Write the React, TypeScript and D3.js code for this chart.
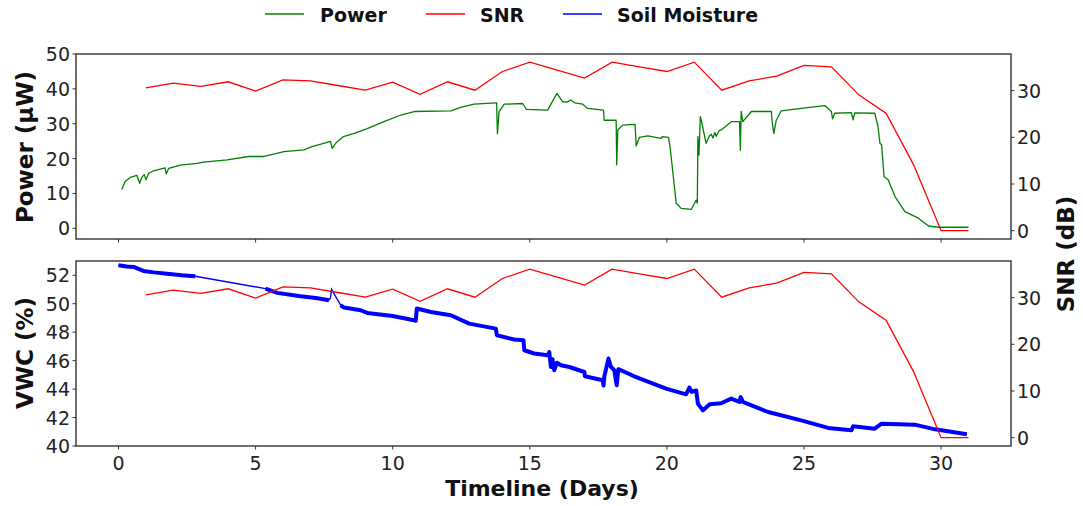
import * as d3 from 'd3'

// SNR measured once per day
const snrDays = d3.range(1, 32)
const snrValues = [30.6, 31.6, 30.9, 31.9, 29.9, 32.3, 32.1, 31.1, 30.1, 31.8, 29.2, 31.9, 30.1, 34.1, 36.1, 34.4,
  32.7, 36.1, 35.1, 34.1, 36.1, 30.1, 32.1, 33.1, 35.4, 35.1, 29.1, 25.1, 14.1, 0, 0]

// harvested power (µW)
const powerDays = [0.12, 0.24, 0.43, 0.67, 0.77, 0.85, 0.94, 1.0, 1.1, 1.28, 1.7, 1.74, 1.83, 2.25, 2.86, 3.1, 3.96,
  4.75, 5.3, 5.66, 6.03, 6.76, 7.06, 7.73, 7.8, 7.92, 8.2, 8.6, 9.07, 9.68, 10.3, 10.78, 12.12, 12.48, 12.97, 13.76,
  13.79, 13.82, 13.88, 14.07, 14.74, 14.88, 15.65, 15.99, 16.2, 16.35, 16.5, 16.63, 16.93, 17.11, 17.69, 17.71, 18.15,
  18.17, 18.21, 18.39, 18.84, 18.88, 19.0, 19.3, 19.79, 19.83, 20.06, 20.13, 20.34, 20.52, 20.89, 21.07, 21.11, 21.13,
  21.17, 21.22, 21.25, 21.43, 21.55, 21.62, 21.68, 21.75, 21.8, 21.9, 21.98, 22.35, 22.65, 22.68, 22.71, 22.77, 23.08,
  23.81, 23.84, 23.9, 23.99, 24.17, 24.9, 25.76, 26.0, 26.04, 26.12, 26.73, 26.79, 26.85, 27.58, 27.7, 27.77, 27.83,
  27.92, 28.07, 28.32, 28.68, 29.17, 29.54, 29.9, 31.0]
const powerValues = [11.2, 13.4, 14.6, 15.2, 12.9, 14.6, 15.4, 13.9, 15.8, 16.5, 17.3, 15.6, 17.2, 18.1, 18.6, 19.0, 19.6,
  20.6, 20.6, 21.3, 22.0, 22.5, 23.4, 24.9, 22.9, 24.4, 26.3, 27.2, 28.6, 30.6, 32.5, 33.5, 33.7, 34.7, 35.6, 36.0,
  36.0, 27.2, 33.5, 35.6, 35.8, 34.1, 33.9, 38.7, 36.3, 36.2, 36.8, 36.0, 35.6, 34.4, 33.9, 31.0, 31.0,
  18.2, 28.2, 29.6, 29.8, 23.6, 26.1, 26.5, 25.8, 26.3, 26.1, 22.4, 7.2, 5.7, 5.4, 8.1, 7.2, 26.3,
  21.0, 32.0, 31.1, 24.4, 26.5, 27.0, 25.9, 27.5, 26.4, 28.0, 28.2, 30.6, 30.6, 22.4, 33.5, 30.6, 33.5,
  33.5, 30.6, 27.2, 31.0, 33.7, 34.4, 35.2, 33.5, 31.4, 33.0, 33.2, 31.1, 33.1, 33.0, 29.2, 24.4, 24.0,
  14.8, 13.9, 9.1, 4.8, 2.9, 0.66, 0.3, 0.3]

// volumetric water content (%), bottom panel
const soilDays = [0.0, 0.3, 0.55, 0.91, 1.3, 1.77, 2.3, 2.8, 5.36, 5.79, 6.64, 7.2, 7.67, 7.73, 7.77, 8.1, 8.22, 8.83,
  9.07, 10.0, 10.78, 10.84, 10.88, 11.39, 12.12, 12.79, 13.76, 13.8, 14.43, 14.77, 14.8, 15.16, 15.65, 15.71, 15.77,
  15.83, 15.89, 15.99, 16.14, 16.44, 16.99, 17.01, 17.66, 17.69, 17.72, 17.87, 17.95, 18.08, 18.17, 18.23, 18.81, 19.97,
  20.7, 20.82, 20.9, 21.07, 21.13, 21.31, 21.56, 21.98, 22.35, 22.65, 22.69, 22.77, 23.69, 24.9, 25.88, 26.73, 26.79,
  27.58, 27.83, 29.04, 29.78, 30.94]
const soilValues = [52.7, 52.62, 52.58, 52.3, 52.2, 52.1, 52.0, 51.93, 51.06, 50.76, 50.52, 50.4, 50.24, 50.4, 51.0,
  49.9, 49.73, 49.54, 49.35, 49.14, 48.84, 48.8, 49.66, 49.42, 49.19, 48.6, 48.25, 47.78, 47.48, 47.43, 46.73, 46.5,
  46.37, 46.6, 45.55, 46.1, 45.32, 45.85, 45.67, 45.55, 45.2, 44.9, 44.62, 44.25, 44.9, 46.14, 45.6, 45.32, 44.27,
  45.4, 44.9, 44.03, 43.63, 44.1, 43.8, 43.9, 42.98, 42.5, 42.93, 43.0, 43.33, 43.09, 43.44, 43.1, 42.39, 41.8, 41.27,
  41.1, 41.38, 41.22, 41.57, 41.5, 41.17, 40.82]
// segments starting at these days are sparse (thin line, no noise band)
const soilThinFrom = [2.8, 7.67, 7.73, 7.77]

const xTicks = [0, 5, 10, 15, 20, 25, 30]
const powerTicks = [0, 10, 20, 30, 40, 50]
const vwcTicks = [40, 42, 44, 46, 48, 50, 52]
const snrTicks = [0, 10, 20, 30]

const FONT = 'DejaVu Sans'
const left = 76
const right = 1011
const top1 = 54, bot1 = 239
const top2 = 261, bot2 = 446
const frame = '#333'
const txt = '#222'
const tickSize = 19

export default function App() {
  const x = d3.scaleLinear().domain([-1.55, 32.55]).range([left, right])
  const yPow = d3.scaleLinear().domain([-3.07, 50]).range([bot1, top1])
  const ySnr1 = d3.scaleLinear().domain([-1.78, 37.85]).range([bot1, top1])
  const ySnr2 = d3.scaleLinear().domain([-1.78, 37.85]).range([bot2, top2])
  const yVwc = d3.scaleLinear().domain([40, 53]).range([bot2, top2])

  const power = powerDays.map((d, i) => [d, powerValues[i]] as [number, number])
  const snr = snrDays.map((d, i) => [d, snrValues[i]] as [number, number])
  const soil = soilDays.map((d, i) => [d, soilValues[i]] as [number, number])

  const powerLine = d3.line<[number, number]>().x(d => x(d[0])).y(d => yPow(d[1]))(power) || ''
  const snrLine1 = d3.line<[number, number]>().x(d => x(d[0])).y(d => ySnr1(d[1]))(snr) || ''
  const snrLine2 = d3.line<[number, number]>().x(d => x(d[0])).y(d => ySnr2(d[1]))(snr) || ''
  const soilGen = d3.line<[number, number]>().x(d => x(d[0])).y(d => yVwc(d[1]))
  const soilLine = soilGen(soil) || ''

  // split dense (noisy) parts into separate runs for the thick band
  const runs: [number, number][][] = []
  let cur: [number, number][] = []
  soil.forEach((p, i) => {
    cur.push(p)
    if (soilThinFrom.includes(p[0]) || i === soil.length - 1) {
      if (cur.length > 1) runs.push(cur)
      cur = [p]
      if (soilThinFrom.includes(p[0])) cur = []
    }
  })

  const xAxis = (y0: number, labels: boolean) => (
    <g>
      {xTicks.map(t => (
        <g key={t}>
          <line x1={x(t)} x2={x(t)} y1={y0} y2={y0 + 3.5} stroke={frame} strokeWidth={1} />
          {labels && (
            <text x={x(t)} y={y0 + 17} textAnchor="middle" dominantBaseline="central" fontSize={tickSize} fill={txt}>{t}</text>
          )}
        </g>
      ))}
    </g>
  )

  const yAxisLeft = (scale: d3.ScaleLinear<number, number>, ticks: number[]) => (
    <g>
      {ticks.map(t => (
        <g key={t}>
          <line x1={left - 3.5} x2={left} y1={scale(t)} y2={scale(t)} stroke={frame} strokeWidth={1} />
          <text x={left - 6} y={scale(t)} textAnchor="end" dominantBaseline="central" fontSize={tickSize} fill={txt}>{t}</text>
        </g>
      ))}
    </g>
  )

  const yAxisRight = (scale: d3.ScaleLinear<number, number>) => (
    <g>
      {snrTicks.map(t => (
        <g key={t}>
          <line x1={right} x2={right + 3.5} y1={scale(t)} y2={scale(t)} stroke={frame} strokeWidth={1} />
          <text x={right + 6} y={scale(t)} textAnchor="start" dominantBaseline="central" fontSize={tickSize} fill={txt}>{t}</text>
        </g>
      ))}
    </g>
  )

  const legend = [
    { label: 'Power', color: 'green', x0: 265, tx: 320 },
    { label: 'SNR', color: 'red', x0: 426, tx: 480 },
    { label: 'Soil Moisture', color: 'blue', x0: 563, tx: 617 },
  ]

  return (
    <svg width={1083} height={506} style={{ display: 'block', position: 'absolute', left: 0, top: 0 }} fontFamily={FONT}>
      <rect width={1083} height={506} fill="white" />
      {legend.map(l => (
        <g key={l.label}>
          <line x1={l.x0} x2={l.x0 + 39} y1={14} y2={14} stroke={l.color} strokeWidth={1.5} />
          <text x={l.tx} y={15} dominantBaseline="central" fontSize={19} fontWeight="bold" fill="#111">{l.label}</text>
        </g>
      ))}

      {/* top panel */}
      <defs>
        <clipPath id="c1"><rect x={left} y={top1} width={right - left} height={bot1 - top1} /></clipPath>
        <clipPath id="c2"><rect x={left} y={top2} width={right - left} height={bot2 - top2} /></clipPath>
      </defs>
      <g clipPath="url(#c1)">
        <path d={powerLine} fill="none" stroke="green" strokeWidth={1.3} strokeLinejoin="round" />
        <path d={snrLine1} fill="none" stroke="red" strokeWidth={1.3} />
      </g>
      <rect x={left} y={top1} width={right - left} height={bot1 - top1} fill="none" stroke={frame} strokeWidth={1.4} />
      {xAxis(bot1, false)}
      {yAxisLeft(yPow, powerTicks)}
      {yAxisRight(ySnr1)}

      {/* bottom panel */}
      <g clipPath="url(#c2)">
        <path d={soilLine} fill="none" stroke="blue" strokeWidth={1.4} />
        {runs.map((r, i) => (
          <path key={i} d={soilGen(r) || ''} fill="none" stroke="blue" strokeWidth={4} strokeLinejoin="round" />
        ))}
        <path d={snrLine2} fill="none" stroke="red" strokeWidth={1.3} />
      </g>
      <rect x={left} y={top2} width={right - left} height={bot2 - top2} fill="none" stroke={frame} strokeWidth={1.4} />
      {xAxis(bot2, true)}
      {yAxisLeft(yVwc, vwcTicks)}
      {yAxisRight(ySnr2)}

      {/* axis titles */}
      <text transform="translate(25,147) rotate(-90)" textAnchor="middle" dominantBaseline="central" fontSize={23} fontWeight="bold" fill="#111">Power (μW)</text>
      <text transform="translate(25,353) rotate(-90)" textAnchor="middle" dominantBaseline="central" fontSize={23} fontWeight="bold" fill="#111">VWC (%)</text>
      <text transform="translate(1066,254) rotate(-90)" textAnchor="middle" dominantBaseline="central" fontSize={23} fontWeight="bold" fill="#111">SNR (dB)</text>
      <text x={542} y={488} textAnchor="middle" dominantBaseline="central" fontSize={22} fontWeight="bold" fill="#111">Timeline (Days)</text>
    </svg>
  )
}
